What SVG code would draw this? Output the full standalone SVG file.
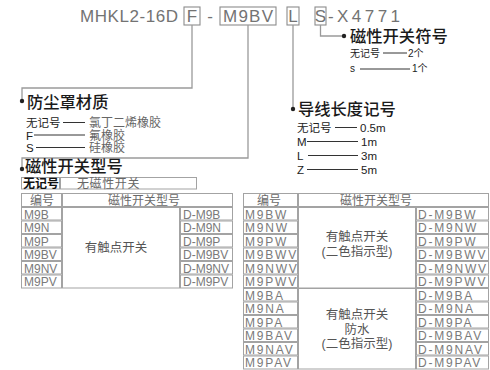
<svg xmlns="http://www.w3.org/2000/svg" width="490" height="370" viewBox="0 0 490 370">
<style>
text{font-family:"Liberation Sans","Noto Sans CJK SC",sans-serif}
.ttl{font-size:17px;fill:#737373}
.box{fill:none;stroke:#8c8c8c;stroke-width:1.1}
.con{fill:none;stroke:#9a9a9a;stroke-width:1.3}
.dot{fill:#222}
.hd{font-size:16.3px;fill:#1a1a1a;font-weight:500}
.lb{font-size:11.5px;fill:#222}
.lbs{font-size:10px;fill:#222}
.val{font-size:12px;fill:#666}
.dash{stroke:#333;stroke-width:1}
.cell{fill:none;stroke:#a3a3a3;stroke-width:1}
.tl{font-size:12px;fill:#7a7a7a}
.tr{font-size:12px;fill:#7a7a7a;letter-spacing:1.8px}
.th{font-size:12px;fill:#6a6a6a}
.mid{font-size:12.5px;fill:#555;text-anchor:middle}
</style>
<rect width="490" height="370" fill="#fff"/>

<g id="title">
<text class="ttl" x="80" y="22" textLength="98" lengthAdjust="spacing">MHKL2-16D</text>
<rect class="box" x="184" y="7" width="16" height="18"/>
<text class="ttl" x="192" y="22" text-anchor="middle">F</text>
<text class="ttl" x="210" y="22" text-anchor="middle">-</text>
<rect class="box" x="220" y="7" width="56" height="18"/>
<text class="ttl" x="223" y="22" textLength="50" lengthAdjust="spacing">M9BV</text>
<rect class="box" x="287" y="7" width="12" height="18"/>
<text class="ttl" x="293" y="22" text-anchor="middle">L</text>
<rect class="box" x="315" y="7" width="11" height="18"/>
<text class="ttl" x="320.5" y="22" text-anchor="middle">S</text>
<text class="ttl" x="328" y="22" textLength="72" lengthAdjust="spacing">-X4771</text>
</g>

<g id="connectors">
<path class="con" d="M192,25 V88 H22 V100"/>
<path class="con" d="M248,25 V158 H22 V168"/>
<path class="con" d="M293,25 V108"/>
<path class="con" d="M320.5,25 V36 H343"/>
<circle class="dot" cx="22" cy="101" r="2.2"/>
<circle class="dot" cx="22" cy="169" r="2.2"/>
<circle class="dot" cx="293" cy="109" r="2.2"/>
<circle class="dot" cx="344" cy="36" r="2.2"/>
</g>

<g id="switch-symbol">
<text class="hd" x="350" y="42">磁性开关符号</text>
<text class="lbs" x="350" y="57">无记号</text>
<line class="dash" x1="383" y1="53" x2="407" y2="53"/>
<text class="lbs" x="408" y="57">2个</text>
<text class="lbs" x="350" y="72">s</text>
<line class="dash" x1="360" y1="69" x2="410" y2="69"/>
<text class="lbs" x="412" y="72">1个</text>
</g>

<g id="boot-material">
<text class="hd" x="27" y="108">防尘罩材质</text>
<text class="lb" x="26" y="127">无记号</text>
<line class="dash" x1="63" y1="122.5" x2="85" y2="122.5"/>
<text class="val" x="89" y="127">氯丁二烯橡胶</text>
<text class="lb" x="26" y="139.5">F</text>
<line class="dash" x1="34" y1="135" x2="85" y2="135"/>
<text class="val" x="89" y="139.5">氟橡胶</text>
<text class="lb" x="26" y="152">S</text>
<line class="dash" x1="36" y1="147.5" x2="85" y2="147.5"/>
<text class="val" x="89" y="152">硅橡胶</text>
</g>

<g id="lead-length">
<text class="hd" x="298" y="115">导线长度记号</text>
<text class="lb" x="297" y="132">无记号</text>
<line class="dash" x1="335" y1="127.5" x2="357" y2="127.5"/>
<text class="lb" x="360" y="132">0.5m</text>
<text class="lb" x="297" y="146">M</text>
<line class="dash" x1="307" y1="141.5" x2="358" y2="141.5"/>
<text class="lb" x="361" y="146">1m</text>
<text class="lb" x="297" y="160">L</text>
<line class="dash" x1="308" y1="155.5" x2="358" y2="155.5"/>
<text class="lb" x="361" y="160">3m</text>
<text class="lb" x="297" y="174">Z</text>
<line class="dash" x1="307" y1="169.5" x2="358" y2="169.5"/>
<text class="lb" x="361" y="174">5m</text>
</g>

<g id="switch-model">
<text class="hd" x="25" y="172">磁性开关型号</text>
<rect class="cell" x="21.5" y="177.5" width="38" height="11.5"/>
<rect class="cell" x="60.5" y="177.5" width="136" height="11.5"/>
<text x="23" y="187.5" style="font-size:12px;fill:#111;font-weight:bold">无记号</text>
<text x="77" y="187.5" style="font-size:12px;fill:#666;letter-spacing:0.6px">无磁性开关</text>
</g>

<g id="table-left">
<rect class="cell" x="21.5" y="193.5" width="40" height="13"/>
<rect class="cell" x="62.5" y="193.5" width="170" height="13"/>
<text class="th" x="42" y="204.5" text-anchor="middle">编号</text>
<text class="th" x="144" y="204.5" text-anchor="middle">磁性开关型号</text>
<rect class="cell" x="62.5" y="207.5" width="117" height="80.5"/>
<g>
<rect class="cell" x="21.5" y="207.5" width="40" height="12.5"/><rect class="cell" x="180.5" y="207.5" width="52" height="12.5"/>
<rect class="cell" x="21.5" y="221" width="40" height="12.5"/><rect class="cell" x="180.5" y="221" width="52" height="12.5"/>
<rect class="cell" x="21.5" y="234.5" width="40" height="12.5"/><rect class="cell" x="180.5" y="234.5" width="52" height="12.5"/>
<rect class="cell" x="21.5" y="248" width="40" height="12.5"/><rect class="cell" x="180.5" y="248" width="52" height="12.5"/>
<rect class="cell" x="21.5" y="261.5" width="40" height="12.5"/><rect class="cell" x="180.5" y="261.5" width="52" height="12.5"/>
<rect class="cell" x="21.5" y="275" width="40" height="13"/><rect class="cell" x="180.5" y="275" width="52" height="13"/>
</g>
<text class="tl" x="24" y="218.5">M9B</text><text class="tl" x="183" y="218.5">D-M9B</text>
<text class="tl" x="24" y="232">M9N</text><text class="tl" x="183" y="232">D-M9N</text>
<text class="tl" x="24" y="245.5">M9P</text><text class="tl" x="183" y="245.5">D-M9P</text>
<text class="tl" x="24" y="259">M9BV</text><text class="tl" x="183" y="259">D-M9BV</text>
<text class="tl" x="24" y="272.5">M9NV</text><text class="tl" x="183" y="272.5">D-M9NV</text>
<text class="tl" x="24" y="286">M9PV</text><text class="tl" x="183" y="286">D-M9PV</text>
<text class="mid" x="116" y="252">有触点开关</text>
</g>

<g id="table-right">
<rect class="cell" x="243.5" y="193.5" width="54" height="13"/>
<rect class="cell" x="298.5" y="193.5" width="190" height="13"/>
<text class="th" x="269" y="204.5" text-anchor="middle">编号</text>
<text class="th" x="376" y="204.5" text-anchor="middle">磁性开关型号</text>
<rect class="cell" x="298.5" y="207.5" width="117" height="80.5"/>
<rect class="cell" x="298.5" y="288.5" width="117" height="80.5"/>
<g>
<rect class="cell" x="243.5" y="207.5" width="54" height="12.5"/><rect class="cell" x="416.5" y="207.5" width="72" height="12.5"/>
<rect class="cell" x="243.5" y="221" width="54" height="12.5"/><rect class="cell" x="416.5" y="221" width="72" height="12.5"/>
<rect class="cell" x="243.5" y="234.5" width="54" height="12.5"/><rect class="cell" x="416.5" y="234.5" width="72" height="12.5"/>
<rect class="cell" x="243.5" y="248" width="54" height="12.5"/><rect class="cell" x="416.5" y="248" width="72" height="12.5"/>
<rect class="cell" x="243.5" y="261.5" width="54" height="12.5"/><rect class="cell" x="416.5" y="261.5" width="72" height="12.5"/>
<rect class="cell" x="243.5" y="275" width="54" height="12.5"/><rect class="cell" x="416.5" y="275" width="72" height="12.5"/>
<rect class="cell" x="243.5" y="288.5" width="54" height="12.5"/><rect class="cell" x="416.5" y="288.5" width="72" height="12.5"/>
<rect class="cell" x="243.5" y="302" width="54" height="12.5"/><rect class="cell" x="416.5" y="302" width="72" height="12.5"/>
<rect class="cell" x="243.5" y="315.5" width="54" height="12.5"/><rect class="cell" x="416.5" y="315.5" width="72" height="12.5"/>
<rect class="cell" x="243.5" y="329" width="54" height="12.5"/><rect class="cell" x="416.5" y="329" width="72" height="12.5"/>
<rect class="cell" x="243.5" y="342.5" width="54" height="12.5"/><rect class="cell" x="416.5" y="342.5" width="72" height="12.5"/>
<rect class="cell" x="243.5" y="356" width="54" height="13"/><rect class="cell" x="416.5" y="356" width="72" height="13"/>
</g>
<text class="tr" x="245" y="218.5">M9BW</text><text class="tr" x="418" y="218.5">D-M9BW</text>
<text class="tr" x="245" y="232">M9NW</text><text class="tr" x="418" y="232">D-M9NW</text>
<text class="tr" x="245" y="245.5">M9PW</text><text class="tr" x="418" y="245.5">D-M9PW</text>
<text class="tr" x="245" y="259">M9BWV</text><text class="tr" x="418" y="259">D-M9BWV</text>
<text class="tr" x="245" y="272.5">M9NWV</text><text class="tr" x="418" y="272.5">D-M9NWV</text>
<text class="tr" x="245" y="286">M9PWV</text><text class="tr" x="418" y="286">D-M9PWV</text>
<text class="tr" x="245" y="299.5">M9BA</text><text class="tr" x="418" y="299.5">D-M9BA</text>
<text class="tr" x="245" y="313">M9NA</text><text class="tr" x="418" y="313">D-M9NA</text>
<text class="tr" x="245" y="326.5">M9PA</text><text class="tr" x="418" y="326.5">D-M9PA</text>
<text class="tr" x="245" y="340">M9BAV</text><text class="tr" x="418" y="340">D-M9BAV</text>
<text class="tr" x="245" y="353.5">M9NAV</text><text class="tr" x="418" y="353.5">D-M9NAV</text>
<text class="tr" x="245" y="367">M9PAV</text><text class="tr" x="418" y="367">D-M9PAV</text>
<text class="mid" x="357" y="241">有触点开关</text>
<text class="mid" x="357" y="256">(二色指示型)</text>
<text class="mid" x="357" y="319">有触点开关</text>
<text class="mid" x="357" y="333.5">防水</text>
<text class="mid" x="357" y="348">(二色指示型)</text>
</g>
</svg>
